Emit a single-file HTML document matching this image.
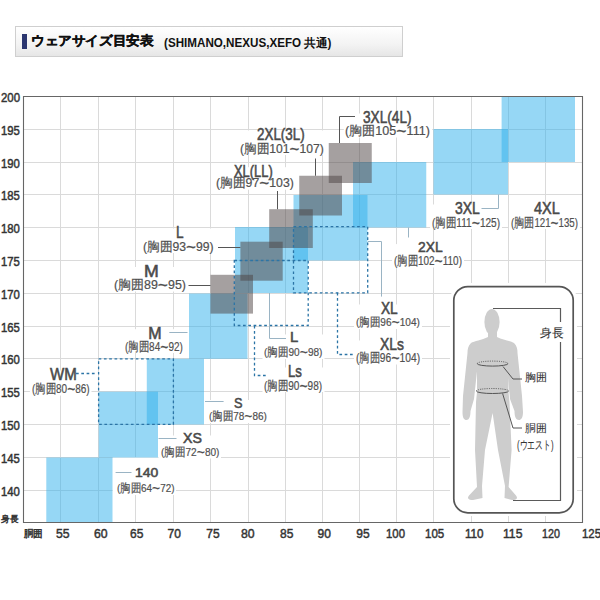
<!DOCTYPE html>
<html><head><meta charset="utf-8">
<style>
html,body{margin:0;padding:0;background:#fff;width:600px;height:600px;overflow:hidden;position:relative;font-family:"Liberation Sans",sans-serif;}
.hdr{position:absolute;left:14.5px;top:26px;width:386px;height:29px;border:1px solid #cfcfcf;background:linear-gradient(#ffffff,#f3f3f3 60%,#e6e6e6);}
.bar{position:absolute;left:22px;top:34px;width:5px;height:15px;background:#2b3670;}
.t{position:absolute;white-space:nowrap;transform-origin:0 0;}
.w{font-size:1.4em;line-height:0;vertical-align:-0.1em;}
</style></head><body>
<div class="hdr"></div><div class="bar"></div>
<svg width="600" height="600" style="position:absolute;left:0;top:0">
<line x1="60.5" y1="96" x2="60.5" y2="523" stroke="#dadada" stroke-width="1"/>
<line x1="98.5" y1="96" x2="98.5" y2="523" stroke="#dadada" stroke-width="1"/>
<line x1="135.5" y1="96" x2="135.5" y2="523" stroke="#dadada" stroke-width="1"/>
<line x1="173.5" y1="96" x2="173.5" y2="523" stroke="#dadada" stroke-width="1"/>
<line x1="210.5" y1="96" x2="210.5" y2="523" stroke="#dadada" stroke-width="1"/>
<line x1="248.5" y1="96" x2="248.5" y2="523" stroke="#dadada" stroke-width="1"/>
<line x1="285.5" y1="96" x2="285.5" y2="523" stroke="#dadada" stroke-width="1"/>
<line x1="322.5" y1="96" x2="322.5" y2="523" stroke="#dadada" stroke-width="1"/>
<line x1="359.5" y1="96" x2="359.5" y2="523" stroke="#dadada" stroke-width="1"/>
<line x1="396.5" y1="96" x2="396.5" y2="523" stroke="#dadada" stroke-width="1"/>
<line x1="433.5" y1="96" x2="433.5" y2="523" stroke="#dadada" stroke-width="1"/>
<line x1="471.5" y1="96" x2="471.5" y2="523" stroke="#dadada" stroke-width="1"/>
<line x1="508.5" y1="96" x2="508.5" y2="523" stroke="#dadada" stroke-width="1"/>
<line x1="545.5" y1="96" x2="545.5" y2="523" stroke="#dadada" stroke-width="1"/>
<line x1="23" y1="129.5" x2="583" y2="129.5" stroke="#dadada" stroke-width="1"/>
<line x1="23" y1="162.5" x2="583" y2="162.5" stroke="#dadada" stroke-width="1"/>
<line x1="23" y1="194.5" x2="583" y2="194.5" stroke="#dadada" stroke-width="1"/>
<line x1="23" y1="227.5" x2="583" y2="227.5" stroke="#dadada" stroke-width="1"/>
<line x1="23" y1="260.5" x2="583" y2="260.5" stroke="#dadada" stroke-width="1"/>
<line x1="23" y1="293.5" x2="583" y2="293.5" stroke="#dadada" stroke-width="1"/>
<line x1="23" y1="326.5" x2="583" y2="326.5" stroke="#dadada" stroke-width="1"/>
<line x1="23" y1="358.5" x2="583" y2="358.5" stroke="#dadada" stroke-width="1"/>
<line x1="23" y1="391.5" x2="583" y2="391.5" stroke="#dadada" stroke-width="1"/>
<line x1="23" y1="424.5" x2="583" y2="424.5" stroke="#dadada" stroke-width="1"/>
<line x1="23" y1="457.5" x2="583" y2="457.5" stroke="#dadada" stroke-width="1"/>
<line x1="23" y1="490.5" x2="583" y2="490.5" stroke="#dadada" stroke-width="1"/>
<rect x="343.8" y="113.5" width="88.39999999999998" height="24.0" fill="#fff"/>
<rect x="238.0" y="130.5" width="87.5" height="24.5" fill="#fff"/>
<rect x="214.2" y="167.2" width="81.5" height="22.5" fill="#fff"/>
<rect x="141.5" y="228.5" width="74.30000000000001" height="24.5" fill="#fff"/>
<rect x="112.2" y="267.0" width="75.60000000000001" height="24.5" fill="#fff"/>
<rect x="123.5" y="329.2" width="61.69999999999999" height="23.80000000000001" fill="#fff"/>
<rect x="29.9" y="370.5" width="61.6" height="25.0" fill="#fff"/>
<rect x="207.0" y="400.0" width="61.5" height="23.0" fill="#fff"/>
<rect x="159.0" y="435.5" width="62.0" height="23.0" fill="#fff"/>
<rect x="114.9" y="470.5" width="61.099999999999994" height="24.0" fill="#fff"/>
<rect x="262.5" y="334.5" width="62.0" height="24.5" fill="#fff"/>
<rect x="262.5" y="367.5" width="62.0" height="24.5" fill="#fff"/>
<rect x="354.0" y="304.5" width="68.0" height="24.5" fill="#fff"/>
<rect x="354.0" y="340.5" width="68.0" height="24.0" fill="#fff"/>
<rect x="392.1" y="244.1" width="71.89999999999998" height="23.400000000000006" fill="#fff"/>
<rect x="430.1" y="204.5" width="71.89999999999998" height="24.5" fill="#fff"/>
<rect x="509.0" y="204.5" width="71.0" height="24.5" fill="#fff"/>
<rect x="112.6" y="457.5" width="63.400000000000006" height="37.5" fill="#fff"/>
<rect x="46.3" y="457.5" width="66.20" height="65.30" fill="rgb(45,175,235)" fill-opacity="0.5"/>
<rect x="98.7" y="391.7" width="59.30" height="65.80" fill="rgb(45,175,235)" fill-opacity="0.5"/>
<rect x="146.8" y="358.8" width="57.20" height="65.70" fill="rgb(45,175,235)" fill-opacity="0.5"/>
<rect x="189" y="293.5" width="58.50" height="65.30" fill="rgb(45,175,235)" fill-opacity="0.5"/>
<rect x="235" y="227" width="73.00" height="66.00" fill="rgb(45,175,235)" fill-opacity="0.5"/>
<rect x="293.5" y="195" width="74.00" height="65.50" fill="rgb(45,175,235)" fill-opacity="0.5"/>
<rect x="353" y="162" width="73.25" height="65.50" fill="rgb(45,175,235)" fill-opacity="0.5"/>
<rect x="433.5" y="129" width="74.50" height="65.50" fill="rgb(45,175,235)" fill-opacity="0.5"/>
<rect x="501.6" y="96.4" width="73.40" height="65.60" fill="rgb(45,175,235)" fill-opacity="0.5"/>
<rect x="210.5" y="274.8" width="42.50" height="38.80" fill="rgb(75,65,65)" fill-opacity="0.5"/>
<rect x="240.4" y="241.7" width="42.30" height="39.00" fill="rgb(75,65,65)" fill-opacity="0.5"/>
<rect x="269.2" y="209.2" width="43.60" height="38.80" fill="rgb(75,65,65)" fill-opacity="0.5"/>
<rect x="299.25" y="175.75" width="42.75" height="39.75" fill="rgb(75,65,65)" fill-opacity="0.5"/>
<rect x="328.75" y="143" width="43.00" height="40.00" fill="rgb(75,65,65)" fill-opacity="0.5"/>
<rect x="98.6" y="358.8" width="74.80" height="65.60" fill="none" stroke="#2b74a6" stroke-width="1.3" stroke-dasharray="2.7 2.6"/>
<rect x="234.3" y="260.5" width="73.90" height="65.00" fill="none" stroke="#2b74a6" stroke-width="1.3" stroke-dasharray="2.7 2.6"/>
<rect x="293.5" y="226.7" width="74.20" height="66.10" fill="none" stroke="#2b74a6" stroke-width="1.3" stroke-dasharray="2.7 2.6"/>
<path d="M23.5 96.5 H582.5 V522.5 H23.5 Z" fill="none" stroke="#666" stroke-width="1.1"/>
<path d="M188.5 285.5 L210.5 285.5" fill="none" stroke="#555" stroke-width="1"/>
<path d="M218 247.5 L240.4 247.5" fill="none" stroke="#555" stroke-width="1"/>
<path d="M277.5 191 L277.5 209.2" fill="none" stroke="#555" stroke-width="1"/>
<path d="M315.5 158.5 L315.5 175.75" fill="none" stroke="#555" stroke-width="1"/>
<path d="M355 116.5 L339.5 116.5 L339.5 143" fill="none" stroke="#555" stroke-width="1"/>
<path d="M169.3 332.5 L187.5 332.5" fill="none" stroke="#9ab4c4" stroke-width="1"/>
<path d="M205 401.5 L223.6 401.5" fill="none" stroke="#9ab4c4" stroke-width="1"/>
<path d="M158.5 438.5 L176.5 438.5" fill="none" stroke="#9ab4c4" stroke-width="1"/>
<path d="M115.6 472.5 L131.5 472.5" fill="none" stroke="#9ab4c4" stroke-width="1"/>
<path d="M269.5 293 L269.5 338.5 L286 338.5" fill="none" stroke="#9ab4c4" stroke-width="1"/>
<path d="M368 241.5 L381.5 241.5 L381.5 296.6" fill="none" stroke="#9ab4c4" stroke-width="1"/>
<path d="M408.5 227.5 L408.5 237.5" fill="none" stroke="#9ab4c4" stroke-width="1"/>
<path d="M498.5 194.5 L498.5 208.5 L481.5 208.5" fill="none" stroke="#9ab4c4" stroke-width="1"/>
<path d="M76 373.5 L97 373.5" fill="none" stroke="#2b74a6" stroke-width="1.3" stroke-dasharray="2.7 2.6"/>
<path d="M254.5 325.7 L254.5 375.5 L266.5 375.5" fill="none" stroke="#2b74a6" stroke-width="1.3" stroke-dasharray="2.7 2.6"/>
<path d="M337.5 292.8 L337.5 354.5 L353.5 354.5" fill="none" stroke="#2b74a6" stroke-width="1.3" stroke-dasharray="2.7 2.6"/>
<rect x="450" y="283" width="127" height="233" rx="17" ry="17" fill="#fff"/>
<rect x="453.8" y="286.6" width="119.4" height="226.2" rx="14" ry="14" fill="#fff" stroke="#555" stroke-width="1.7"/>
<ellipse cx="492" cy="322" rx="7.6" ry="13" fill="#cdcdcd"/>
<rect x="488" y="330" width="9" height="12" fill="#cdcdcd"/>
<path d="M488,337 L497,337 C503,340 511,341 514,343 C517,346 517.5,349 517.5,353 L522,396 L523,412 C523,418 521,420 519,420 C516,420 514.5,417 514.5,411 L510,399 L506.5,362 L478,362 L474,399 L470.5,411 C470.5,417 469,420 466.5,420 C464,420 462.5,418 462.5,412 L463,396 L467.5,353 C467.5,349 468,346 471,343 C474,341 482,340 488,337 Z" fill="#cdcdcd"/>
<path d="M477,350 L508,350 L508.5,392 L509.5,402 L511.6,450 L508.6,487 L516,495.5 C518.5,498.5 516,500 512,500 L504.5,498 L505,486 L498,450 L492.6,413 L485,450 L482,486 L482.5,498 L473,500 C469,500 466.5,498.5 469,495.5 L477,487 L475,450 L476,402 L477,392 Z" fill="#cdcdcd"/>
<path d="M477.2,363.6 A15.4,2.5 0 0 1 508,363.6" fill="none" stroke="#555" stroke-width="1" stroke-dasharray="1 1.2"/>
<path d="M477.2,363.6 A15.4,2.5 0 0 0 508,363.6" fill="none" stroke="#555" stroke-width="1"/>
<path d="M476.3,391 A16.2,2.5 0 0 1 508.7,391" fill="none" stroke="#555" stroke-width="1" stroke-dasharray="1 1.2"/>
<path d="M476.3,391 A16.2,2.5 0 0 0 508.7,391" fill="none" stroke="#555" stroke-width="1"/>
<path d="M503 366.5 L513 379 L522 379" fill="none" stroke="#555" stroke-width="1"/>
<path d="M502.6 393.5 L513 428 L522 428" fill="none" stroke="#555" stroke-width="1"/>
<path d="M493,308.5 H560.5 V500.5 H513" fill="none" stroke="#5a5a5a" stroke-width="1.2"/>
<rect x="537" y="322" width="28" height="20" fill="#fff"/>
</svg>
<div class="t" style="left:363.00px;top:109.00px;font-size:16.50px;line-height:16.50px;font-weight:400;color:#4a4a4a;transform:scaleX(0.828);-webkit-text-stroke:0.55px #4a4a4a">3XL(4L)</div>
<div class="t" style="left:345.30px;top:125.00px;font-size:12.50px;line-height:12.50px;font-weight:400;color:#505050;transform:scaleX(1.005);-webkit-text-stroke:0.2px #505050">(胸囲105<span class="w">~</span>111)</div>
<div class="t" style="left:256.90px;top:126.00px;font-size:16.50px;line-height:16.50px;font-weight:400;color:#4a4a4a;transform:scaleX(0.812);-webkit-text-stroke:0.55px #4a4a4a">2XL(3L)</div>
<div class="t" style="left:239.53px;top:142.50px;font-size:12.50px;line-height:12.50px;font-weight:400;color:#505050;transform:scaleX(0.971);-webkit-text-stroke:0.2px #505050">(胸囲101<span class="w">~</span>107)</div>
<div class="t" style="left:234.00px;top:163.70px;font-size:16.00px;line-height:16.00px;font-weight:400;color:#4a4a4a;transform:scaleX(0.806);-webkit-text-stroke:0.55px #4a4a4a">XL(LL)</div>
<div class="t" style="left:215.72px;top:177.20px;font-size:12.50px;line-height:12.50px;font-weight:400;color:#505050;transform:scaleX(0.981);-webkit-text-stroke:0.2px #505050">(胸囲97<span class="w">~</span>103)</div>
<div class="t" style="left:175.88px;top:224.00px;font-size:16.50px;line-height:16.50px;font-weight:400;color:#4a4a4a;transform:scaleX(0.825);-webkit-text-stroke:0.55px #4a4a4a">L</div>
<div class="t" style="left:143.02px;top:240.50px;font-size:12.50px;line-height:12.50px;font-weight:400;color:#505050;transform:scaleX(0.976);-webkit-text-stroke:0.2px #505050">(胸囲93<span class="w">~</span>99)</div>
<div class="t" style="left:143.76px;top:262.50px;font-size:17.00px;line-height:17.00px;font-weight:400;color:#4a4a4a;transform:scaleX(1.042);-webkit-text-stroke:0.55px #4a4a4a">M</div>
<div class="t" style="left:113.71px;top:279.00px;font-size:12.50px;line-height:12.50px;font-weight:400;color:#505050;transform:scaleX(0.994);-webkit-text-stroke:0.2px #505050">(胸囲89<span class="w">~</span>95)</div>
<div class="t" style="left:148.30px;top:325.70px;font-size:16.00px;line-height:16.00px;font-weight:400;color:#4a4a4a;transform:scaleX(1.000);-webkit-text-stroke:0.55px #4a4a4a">M</div>
<div class="t" style="left:125.20px;top:340.50px;font-size:12.50px;line-height:12.50px;font-weight:400;color:#505050;transform:scaleX(0.799);-webkit-text-stroke:0.2px #505050">(胸囲84<span class="w">~</span>92)</div>
<div class="t" style="left:49.60px;top:367.00px;font-size:16.00px;line-height:16.00px;font-weight:400;color:#4a4a4a;transform:scaleX(0.943);-webkit-text-stroke:0.55px #4a4a4a">WM</div>
<div class="t" style="left:31.60px;top:383.00px;font-size:12.50px;line-height:12.50px;font-weight:400;color:#505050;transform:scaleX(0.797);-webkit-text-stroke:0.2px #505050">(胸囲80<span class="w">~</span>86)</div>
<div class="t" style="left:234.00px;top:394.50px;font-size:15.00px;line-height:15.00px;font-weight:400;color:#4a4a4a;transform:scaleX(0.850);-webkit-text-stroke:0.55px #4a4a4a">S</div>
<div class="t" style="left:208.63px;top:411.00px;font-size:11.50px;line-height:11.50px;font-weight:400;color:#505050;transform:scaleX(0.869);-webkit-text-stroke:0.2px #505050">(胸囲78<span class="w">~</span>86)</div>
<div class="t" style="left:183.40px;top:431.00px;font-size:14.50px;line-height:14.50px;font-weight:400;color:#4a4a4a;transform:scaleX(0.979);-webkit-text-stroke:0.55px #4a4a4a">XS</div>
<div class="t" style="left:160.62px;top:446.50px;font-size:11.50px;line-height:11.50px;font-weight:400;color:#505050;transform:scaleX(0.877);-webkit-text-stroke:0.2px #505050">(胸囲72<span class="w">~</span>80)</div>
<div class="t" style="left:134.93px;top:466.00px;font-size:13.00px;line-height:13.00px;font-weight:400;color:#4a4a4a;transform:scaleX(1.071);-webkit-text-stroke:0.55px #4a4a4a">140</div>
<div class="t" style="left:116.54px;top:482.50px;font-size:11.50px;line-height:11.50px;font-weight:400;color:#505050;transform:scaleX(0.863);-webkit-text-stroke:0.2px #505050">(胸囲64<span class="w">~</span>72)</div>
<div class="t" style="left:289.51px;top:329.00px;font-size:15.00px;line-height:15.00px;font-weight:400;color:#4a4a4a;transform:scaleX(0.986);-webkit-text-stroke:0.55px #4a4a4a">L</div>
<div class="t" style="left:264.12px;top:347.00px;font-size:11.50px;line-height:11.50px;font-weight:400;color:#505050;transform:scaleX(0.877);-webkit-text-stroke:0.2px #505050">(胸囲90<span class="w">~</span>98)</div>
<div class="t" style="left:287.57px;top:364.00px;font-size:16.00px;line-height:16.00px;font-weight:400;color:#4a4a4a;transform:scaleX(0.825);-webkit-text-stroke:0.55px #4a4a4a">Ls</div>
<div class="t" style="left:264.20px;top:379.50px;font-size:12.50px;line-height:12.50px;font-weight:400;color:#505050;transform:scaleX(0.803);-webkit-text-stroke:0.2px #505050">(胸囲90<span class="w">~</span>98)</div>
<div class="t" style="left:381.40px;top:301.00px;font-size:16.00px;line-height:16.00px;font-weight:400;color:#4a4a4a;transform:scaleX(0.855);-webkit-text-stroke:0.55px #4a4a4a">XL</div>
<div class="t" style="left:355.62px;top:317.00px;font-size:11.50px;line-height:11.50px;font-weight:400;color:#505050;transform:scaleX(0.875);-webkit-text-stroke:0.2px #505050">(胸囲96<span class="w">~</span>104)</div>
<div class="t" style="left:379.60px;top:337.00px;font-size:16.00px;line-height:16.00px;font-weight:400;color:#4a4a4a;transform:scaleX(0.867);-webkit-text-stroke:0.55px #4a4a4a">XLs</div>
<div class="t" style="left:355.71px;top:350.50px;font-size:13.00px;line-height:13.00px;font-weight:400;color:#505050;transform:scaleX(0.787);-webkit-text-stroke:0.2px #505050">(胸囲96<span class="w">~</span>104)</div>
<div class="t" style="left:417.90px;top:238.60px;font-size:15.00px;line-height:15.00px;font-weight:400;color:#4a4a4a;transform:scaleX(0.922);-webkit-text-stroke:0.55px #4a4a4a">2XL</div>
<div class="t" style="left:393.80px;top:255.00px;font-size:12.50px;line-height:12.50px;font-weight:400;color:#505050;transform:scaleX(0.796);-webkit-text-stroke:0.2px #505050">(胸囲102<span class="w">~</span>110)</div>
<div class="t" style="left:455.40px;top:200.00px;font-size:16.50px;line-height:16.50px;font-weight:400;color:#4a4a4a;transform:scaleX(0.848);-webkit-text-stroke:0.55px #4a4a4a">3XL</div>
<div class="t" style="left:431.79px;top:216.50px;font-size:12.50px;line-height:12.50px;font-weight:400;color:#505050;transform:scaleX(0.806);-webkit-text-stroke:0.2px #505050">(胸囲111<span class="w">~</span>125)</div>
<div class="t" style="left:534.00px;top:200.00px;font-size:16.50px;line-height:16.50px;font-weight:400;color:#4a4a4a;transform:scaleX(0.879);-webkit-text-stroke:0.55px #4a4a4a">4XL</div>
<div class="t" style="left:510.72px;top:216.50px;font-size:12.50px;line-height:12.50px;font-weight:400;color:#505050;transform:scaleX(0.776);-webkit-text-stroke:0.2px #505050">(胸囲121<span class="w">~</span>135)</div>
<div class="t" style="left:1.00px;top:91.25px;font-size:13.50px;line-height:13.50px;font-weight:400;color:#333;transform:scaleX(0.845);-webkit-text-stroke:0.5px #333">200</div>
<div class="t" style="left:1.16px;top:124.25px;font-size:13.50px;line-height:13.50px;font-weight:400;color:#333;transform:scaleX(0.838);-webkit-text-stroke:0.5px #333">195</div>
<div class="t" style="left:1.16px;top:157.25px;font-size:13.50px;line-height:13.50px;font-weight:400;color:#333;transform:scaleX(0.838);-webkit-text-stroke:0.5px #333">190</div>
<div class="t" style="left:1.16px;top:189.25px;font-size:13.50px;line-height:13.50px;font-weight:400;color:#333;transform:scaleX(0.838);-webkit-text-stroke:0.5px #333">185</div>
<div class="t" style="left:1.16px;top:222.25px;font-size:13.50px;line-height:13.50px;font-weight:400;color:#333;transform:scaleX(0.838);-webkit-text-stroke:0.5px #333">180</div>
<div class="t" style="left:1.16px;top:255.25px;font-size:13.50px;line-height:13.50px;font-weight:400;color:#333;transform:scaleX(0.838);-webkit-text-stroke:0.5px #333">175</div>
<div class="t" style="left:1.16px;top:288.25px;font-size:13.50px;line-height:13.50px;font-weight:400;color:#333;transform:scaleX(0.838);-webkit-text-stroke:0.5px #333">170</div>
<div class="t" style="left:1.16px;top:321.25px;font-size:13.50px;line-height:13.50px;font-weight:400;color:#333;transform:scaleX(0.838);-webkit-text-stroke:0.5px #333">165</div>
<div class="t" style="left:1.16px;top:353.25px;font-size:13.50px;line-height:13.50px;font-weight:400;color:#333;transform:scaleX(0.838);-webkit-text-stroke:0.5px #333">160</div>
<div class="t" style="left:1.16px;top:386.25px;font-size:13.50px;line-height:13.50px;font-weight:400;color:#333;transform:scaleX(0.838);-webkit-text-stroke:0.5px #333">155</div>
<div class="t" style="left:1.16px;top:419.25px;font-size:13.50px;line-height:13.50px;font-weight:400;color:#333;transform:scaleX(0.838);-webkit-text-stroke:0.5px #333">150</div>
<div class="t" style="left:1.16px;top:452.25px;font-size:13.50px;line-height:13.50px;font-weight:400;color:#333;transform:scaleX(0.838);-webkit-text-stroke:0.5px #333">145</div>
<div class="t" style="left:1.16px;top:485.25px;font-size:13.50px;line-height:13.50px;font-weight:400;color:#333;transform:scaleX(0.838);-webkit-text-stroke:0.5px #333">140</div>
<div class="t" style="left:55.50px;top:527.75px;font-size:12.00px;line-height:12.00px;font-weight:400;color:#333;transform:scaleX(1.019);-webkit-text-stroke:0.45px #333">55</div>
<div class="t" style="left:93.75px;top:527.75px;font-size:12.00px;line-height:12.00px;font-weight:400;color:#333;transform:scaleX(1.019);-webkit-text-stroke:0.45px #333">60</div>
<div class="t" style="left:130.00px;top:527.75px;font-size:12.00px;line-height:12.00px;font-weight:400;color:#333;transform:scaleX(1.000);-webkit-text-stroke:0.45px #333">65</div>
<div class="t" style="left:167.50px;top:527.75px;font-size:12.00px;line-height:12.00px;font-weight:400;color:#333;transform:scaleX(1.000);-webkit-text-stroke:0.45px #333">70</div>
<div class="t" style="left:206.25px;top:527.75px;font-size:12.00px;line-height:12.00px;font-weight:400;color:#333;transform:scaleX(1.000);-webkit-text-stroke:0.45px #333">75</div>
<div class="t" style="left:241.25px;top:527.75px;font-size:12.00px;line-height:12.00px;font-weight:400;color:#333;transform:scaleX(1.019);-webkit-text-stroke:0.45px #333">80</div>
<div class="t" style="left:280.00px;top:527.75px;font-size:12.00px;line-height:12.00px;font-weight:400;color:#333;transform:scaleX(1.000);-webkit-text-stroke:0.45px #333">85</div>
<div class="t" style="left:317.50px;top:527.75px;font-size:12.00px;line-height:12.00px;font-weight:400;color:#333;transform:scaleX(1.000);-webkit-text-stroke:0.45px #333">90</div>
<div class="t" style="left:356.25px;top:527.75px;font-size:12.00px;line-height:12.00px;font-weight:400;color:#333;transform:scaleX(1.000);-webkit-text-stroke:0.45px #333">95</div>
<div class="t" style="left:386.05px;top:527.75px;font-size:12.00px;line-height:12.00px;font-weight:400;color:#333;transform:scaleX(0.947);-webkit-text-stroke:0.45px #333">100</div>
<div class="t" style="left:425.29px;top:527.75px;font-size:12.00px;line-height:12.00px;font-weight:400;color:#333;transform:scaleX(0.961);-webkit-text-stroke:0.45px #333">105</div>
<div class="t" style="left:464.53px;top:527.75px;font-size:12.00px;line-height:12.00px;font-weight:400;color:#333;transform:scaleX(0.972);-webkit-text-stroke:0.45px #333">110</div>
<div class="t" style="left:502.74px;top:527.75px;font-size:12.00px;line-height:12.00px;font-weight:400;color:#333;transform:scaleX(1.014);-webkit-text-stroke:0.45px #333">115</div>
<div class="t" style="left:542.11px;top:527.75px;font-size:12.00px;line-height:12.00px;font-weight:400;color:#333;transform:scaleX(0.895);-webkit-text-stroke:0.45px #333">120</div>
<div class="t" style="left:581.55px;top:527.75px;font-size:12.00px;line-height:12.00px;font-weight:400;color:#333;transform:scaleX(0.947);-webkit-text-stroke:0.45px #333">125</div>
<div class="t" style="left:0.70px;top:514.50px;font-size:8.50px;line-height:8.50px;font-weight:400;color:#333;transform:scaleX(0.961);-webkit-text-stroke:0.5px #333">身長</div>
<div class="t" style="left:24.00px;top:528.70px;font-size:9.50px;line-height:9.50px;font-weight:400;color:#333;transform:scaleX(0.947);-webkit-text-stroke:0.5px #333">胴囲</div>
<div class="t" style="left:30.95px;top:34.00px;font-size:13.00px;line-height:13.00px;font-weight:700;color:#111;transform:scaleX(1.047);-webkit-text-stroke:0.4px #111">ウェアサイズ目安表</div>
<div class="t" style="left:163.75px;top:37.00px;font-size:12.00px;line-height:12.00px;font-weight:700;color:#111;transform:scaleX(0.970);">(SHIMANO,NEXUS,XEFO 共通)</div>
<div class="t" style="left:539.50px;top:328.00px;font-size:11.50px;line-height:11.50px;font-weight:400;color:#333;transform:scaleX(0.978);-webkit-text-stroke:0.1px #333">身長</div>
<div class="t" style="left:525.00px;top:372.00px;font-size:11.00px;line-height:11.00px;font-weight:400;color:#333;transform:scaleX(1.000);-webkit-text-stroke:0.1px #333">胸囲</div>
<div class="t" style="left:525.00px;top:423.00px;font-size:11.00px;line-height:11.00px;font-weight:400;color:#333;transform:scaleX(0.990);-webkit-text-stroke:0.1px #333">胴囲</div>
<div class="t" style="left:517.35px;top:439.00px;font-size:12.00px;line-height:12.00px;font-weight:400;color:#333;transform:scaleX(0.655);-webkit-text-stroke:0.1px #333">(ウエスト)</div>
</body></html>
